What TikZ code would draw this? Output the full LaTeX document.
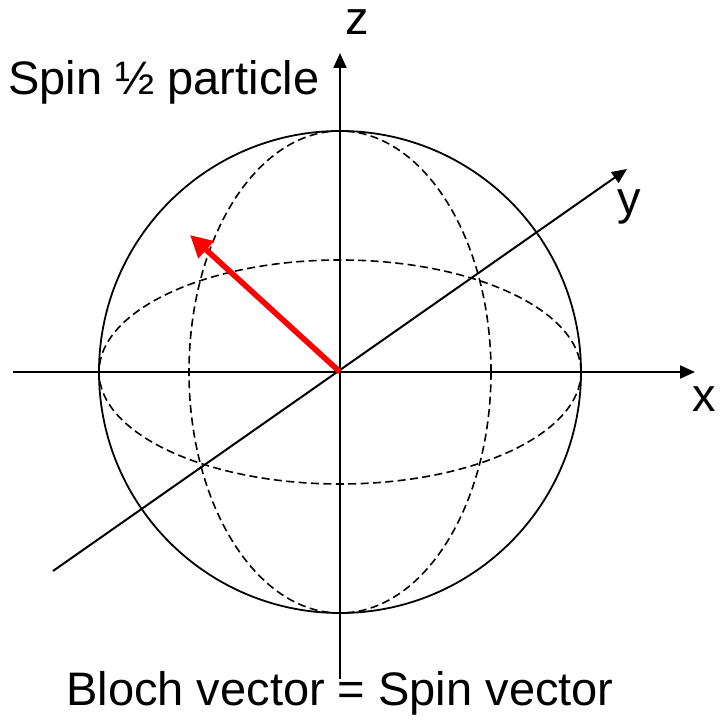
\documentclass[tikz,border=0pt]{standalone}
\usepackage{fontspec}
\setmainfont{Liberation Sans}
\usepackage{tikz}
\usetikzlibrary{arrows.meta, positioning}
\definecolor{spinred}{RGB}{255,0,0}
\definecolor{axisblack}{RGB}{0,0,0}
\tikzset{
  axis/.style={-{Triangle[length=7.5pt, width=6.5pt]}, line width=1pt, color=axisblack},
  sphere/.style={line width=0.9pt, color=axisblack},
  guide/.style={line width=0.8pt, color=axisblack, dash pattern=on 4pt off 2.2pt},
  spinarrow/.style={-{Triangle[length=11pt, width=11pt]}, line width=2.8pt, color=spinred},
  lbl/.style={font=\fontsize{23.5}{28}\selectfont, inner sep=0pt}
}

\begin{document}
\begin{tikzpicture}[x=0.5pt, y=0.5pt]
\useasboundingbox (0,0) rectangle (720,721);
\coordinate (O) at (340,349);
% sphere and dashed great circles
\draw[sphere] (O) circle [radius=241];
\draw[guide] (O) ellipse [x radius=241, y radius=112];
\draw[guide] (O) ellipse [x radius=151, y radius=241];
% axes
\coordinate (xstart) at (13,349);
\coordinate (xend) at (695,349);
\coordinate (ystart) at (53,150);
\coordinate (yend) at (627,552);
\coordinate (zstart) at (340,42);
\coordinate (zend) at (340,668);
\draw[axis] (xstart) -- (xend);
\draw[axis] (ystart) -- (yend);
\draw[axis] (zstart) -- (zend);
\node[lbl, anchor=base] (xlbl) at (704,309) {x};
\node[lbl, anchor=base] (ylbl) at (629,506) {y};
\node[lbl, anchor=base] (zlbl) at (357,686) {z};
% spin vector
\coordinate (tip) at (190,486);
\draw[spinarrow] (O) -- (tip);
% captions
\node[lbl, anchor=base west] (title) at (8,626) {Spin ½ particle};
\node[lbl, anchor=base] (caption) at (340,15) {Bloch vector = Spin vector};
\end{tikzpicture}
\end{document}
